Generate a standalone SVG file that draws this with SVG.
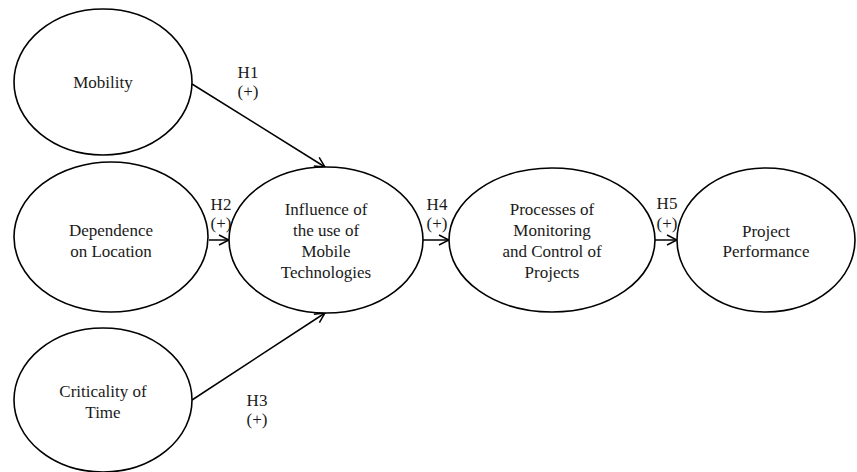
<svg xmlns="http://www.w3.org/2000/svg" width="857" height="472" viewBox="0 0 857 472">
<style>
.n ellipse{fill:#fff;stroke:#000;stroke-width:1.6}
text{font-family:"Liberation Serif","Times New Roman",serif;font-size:17px;fill:#1a1a1a;text-anchor:middle}
.c line{stroke:#000;stroke-width:1.5;marker-end:url(#ah)}
</style>
<defs>
<marker id="ah" markerWidth="12" markerHeight="12" refX="11" refY="6" orient="auto" markerUnits="userSpaceOnUse">
<path d="M1,1 L11,6 L1,11" fill="none" stroke="#000" stroke-width="1.5"/>
</marker>
</defs>
<rect width="857" height="472" fill="#fff"/>
<g class="c" id="connectors">
<line x1="192" y1="84" x2="325" y2="167"/>
<line x1="209" y1="240" x2="229" y2="240"/>
<line x1="192" y1="400" x2="325" y2="313"/>
<line x1="422" y1="240" x2="449" y2="240"/>
<line x1="655" y1="240" x2="677" y2="240"/>
<text x="248" y="78">H1</text><text x="248" y="97">(+)</text>
<text x="221" y="210">H2</text><text x="221" y="229">(+)</text>
<text x="257" y="406">H3</text><text x="257" y="425">(+)</text>
<text x="437" y="210">H4</text><text x="437" y="229">(+)</text>
<text x="667" y="209">H5</text><text x="667" y="229">(+)</text>
</g>
<g class="n" id="mobility"><ellipse cx="103" cy="82" rx="89" ry="73"/><text x="103" y="88">Mobility</text></g>
<g class="n" id="dependence"><ellipse cx="111" cy="237" rx="97" ry="75"/><text x="111" y="236">Dependence</text><text x="111" y="257">on Location</text></g>
<g class="n" id="criticality"><ellipse cx="103" cy="400" rx="89" ry="72"/><text x="103" y="397">Criticality of</text><text x="103" y="418">Time</text></g>
<g class="n" id="influence"><ellipse cx="326" cy="240" rx="97" ry="73"/><text x="326" y="215">Influence of</text><text x="326" y="236">the use of</text><text x="326" y="257">Mobile</text><text x="326" y="278">Technologies</text></g>
<g class="n" id="processes"><ellipse cx="552" cy="240" rx="103" ry="72"/><text x="552" y="215">Processes of</text><text x="552" y="236">Monitoring</text><text x="552" y="257">and Control of</text><text x="552" y="278">Projects</text></g>
<g class="n" id="performance"><ellipse cx="766" cy="240" rx="89" ry="72"/><text x="766" y="237">Project</text><text x="766" y="257">Performance</text></g>
</svg>
